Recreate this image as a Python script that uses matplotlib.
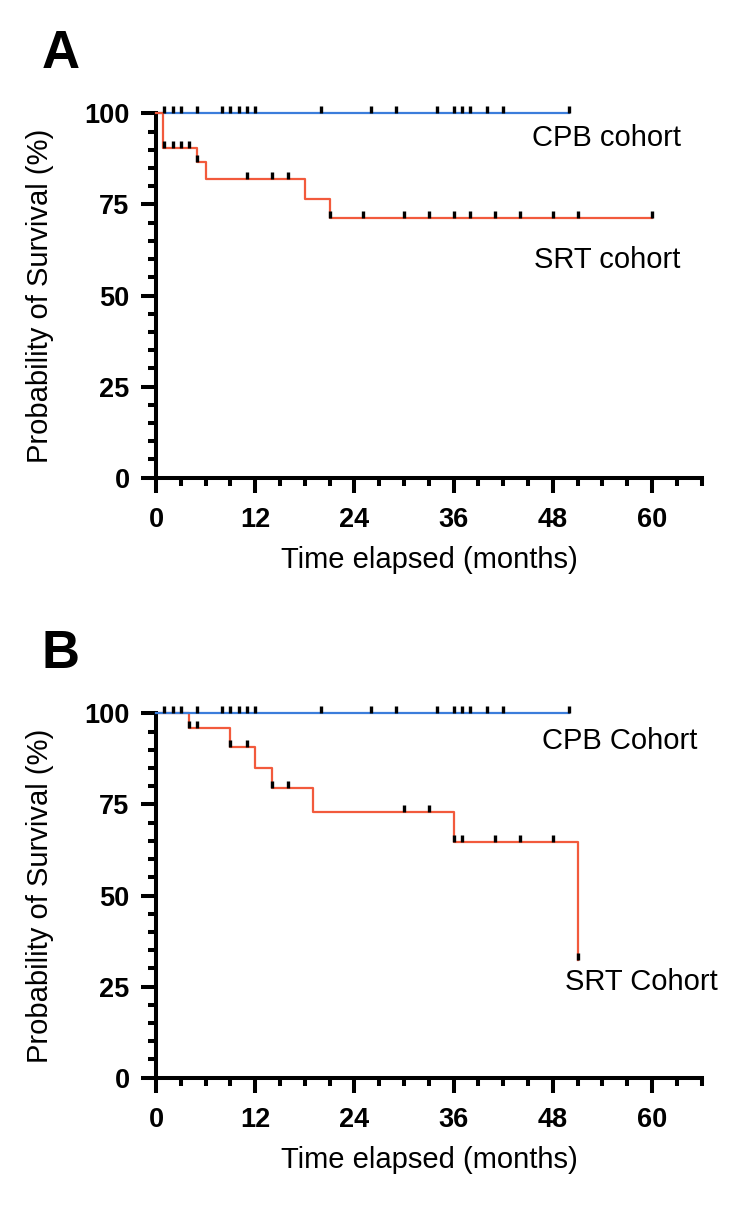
import matplotlib
matplotlib.use("Agg")
import matplotlib.pyplot as plt
from matplotlib.path import Path
from matplotlib.ticker import MultipleLocator
import numpy as np

plt.rcParams['font.family'] = ['Liberation Sans', 'DejaVu Sans']

# ---------------- data ----------------
# Panel A
a_cpb_times = [0, 50]
a_cpb_surv = [100, 100]
a_cpb_censor = [1, 2, 3, 5, 8, 9, 10, 11, 12, 20, 26, 29, 34, 36, 37, 38, 40, 42, 50]

a_srt_times = [0, 0.9, 5, 6, 18, 21, 60]
a_srt_surv = [100, 90.6, 86.6, 82.1, 76.6, 71.2, 71.2]
a_srt_censor = [1, 2, 3, 4, 5, 11, 14, 16, 21, 25, 30, 33, 36, 38, 41, 44, 48, 51, 60]

# Panel B
b_cpb_times = [0, 50]
b_cpb_surv = [100, 100]
b_cpb_censor = [1, 2, 3, 5, 8, 9, 10, 11, 12, 20, 26, 29, 34, 36, 37, 38, 40, 42, 50]

b_srt_times = [0, 4, 9, 12, 14, 19, 36, 51]
b_srt_surv = [100, 95.9, 90.8, 85.1, 79.4, 72.8, 64.8, 32.4]
b_srt_censor = [4, 5, 9, 11, 14, 16, 30, 33, 36, 37, 41, 44, 48, 51]

x_ticks = [0, 12, 24, 36, 48, 60]
y_ticks = [0, 25, 50, 75, 100]

panel_letters = ["A", "B"]
cpb_labels = ["CPB cohort", "CPB Cohort"]
srt_labels = ["SRT cohort", "SRT Cohort"]
x_title = "Time elapsed (months)"
y_title = "Probability of Survival (%)"

BLUE = "#3b7ddb"
RED = "#f25a3c"

W, H = 750, 1210
fig = plt.figure(figsize=(7.5, 12.1), dpi=100)

censor_marker = Path([(0, 0), (0, 1)], [Path.MOVETO, Path.LINETO])


def level_at(times, surv, t):
    idx = np.searchsorted(np.asarray(times), t, side='right') - 1
    return surv[max(idx, 0)]


def px_axes(left, bottom_px, right, top_px):
    return [left / W, 1 - bottom_px / H, (right - left) / W, (bottom_px - top_px) / H]


panels = [
    dict(rect=px_axes(156, 477.7, 701.7, 113.3), cpb=(a_cpb_times, a_cpb_surv, a_cpb_censor),
         srt=(a_srt_times, a_srt_surv, a_srt_censor), red_top=True,
         cpb_xy=(607, 138), srt_xy=(607, 260), letter_xy=(61, 54)),
    dict(rect=px_axes(156, 1077.7, 701.7, 713.3), cpb=(b_cpb_times, b_cpb_surv, b_cpb_censor),
         srt=(b_srt_times, b_srt_surv, b_srt_censor), red_top=False,
         cpb_xy=(620, 741), srt_xy=(641, 982), letter_xy=(61, 654)),
]

for i, p in enumerate(panels):
    ax = fig.add_axes(p['rect'])
    ct, cs, cc = p['cpb']
    st, ss, sc = p['srt']
    zb, zr = (2, 3) if p['red_top'] else (3, 2)
    ax.step(ct, cs, where='post', color=BLUE, lw=1.6, clip_on=False, zorder=zb)
    ax.step(st, ss, where='post', color=RED, lw=1.6, clip_on=False, zorder=zr)
    ax.plot(cc, [level_at(ct, cs, t) for t in cc], linestyle='none', marker=censor_marker,
            ms=10, mec='black', mew=2.4, clip_on=False, zorder=4)
    ax.plot(sc, [level_at(st, ss, t) for t in sc], linestyle='none', marker=censor_marker,
            ms=10, mec='black', mew=2.4, clip_on=False, zorder=4)

    ax.set_xlim(0, 66)
    ax.set_ylim(0, 100)
    ax.set_xticks(x_ticks)
    ax.set_yticks(y_ticks)
    ax.xaxis.set_minor_locator(MultipleLocator(3))
    ax.yaxis.set_minor_locator(MultipleLocator(5))
    for s in ['top', 'right']:
        ax.spines[s].set_visible(False)
    for s in ['left', 'bottom']:
        ax.spines[s].set_linewidth(2.9)
        ax.spines[s].set_capstyle('projecting')
    ax.tick_params(which='major', length=11, width=2.9, direction='out', pad=8)
    ax.tick_params(which='minor', length=5.5, width=2.9, direction='out')
    ax.tick_params(axis='x', which='major', pad=10)
    for lab in ax.get_xticklabels() + ax.get_yticklabels():
        lab.set_fontweight('bold')
        lab.set_fontsize(19.5)
    ax.set_facecolor('none')

    fig.text(p['cpb_xy'][0] / W, 1 - p['cpb_xy'][1] / H, cpb_labels[i], fontsize=21,
             ha='center', va='center')
    fig.text(p['srt_xy'][0] / W, 1 - p['srt_xy'][1] / H, srt_labels[i], fontsize=21,
             ha='center', va='center')
    fig.text(p['letter_xy'][0] / W, 1 - p['letter_xy'][1] / H, panel_letters[i], fontsize=38,
             fontweight='bold', ha='center', va='center')
    axb = 477.7 + 600 * i
    axt = 113.3 + 600 * i
    fig.text(40 / W, 1 - ((axb + axt) / 2) / H, y_title, fontsize=21, rotation=90,
             ha='center', va='center')
    fig.text(429 / W, 1 - (axb + 82) / H, x_title, fontsize=21, ha='center', va='center')

fig.savefig("out.png", dpi=100)
